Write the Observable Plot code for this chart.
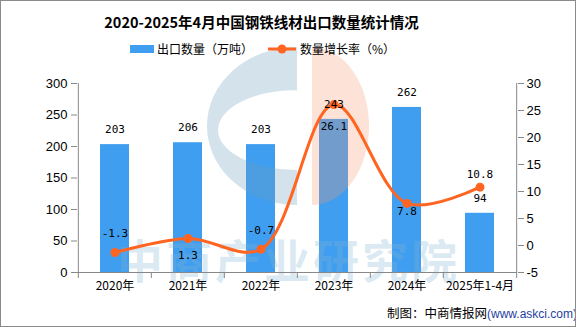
<!DOCTYPE html>
<html>
<head>
<meta charset="utf-8">
<script src="https://cdn.jsdelivr.net/npm/d3@7"></script>
<script src="https://cdn.jsdelivr.net/npm/@observablehq/plot@0.6"></script>
<style>
  html, body { margin: 0; padding: 0; background: #fff; }
  #wrap { position: relative; width: 576px; height: 327px; overflow: hidden; background: #fff;
          font-family: "Noto Sans CJK SC", "Noto Sans", sans-serif; }
  #border { position: absolute; left: 0; top: 0; width: 574px; height: 325px; border: 1px solid #8a8a8a; pointer-events: none; z-index: 5; }
  #title { position: absolute; top: 11px; left: 0; width: 523px; text-align: center; font-size: 14.5px; font-weight: bold; color: #000; line-height: 22px; z-index: 3; }
  #chart { position: absolute; top: 38px; left: 0; }
  #legend { position: absolute; top: 40px; left: 0; width: 576px; height: 18px; font-size: 12px; color: #000; z-index: 3; }
  .lg { position: absolute; top: 0; line-height: 18px; white-space: nowrap; }
  #caption { position: absolute; top: 304px; left: 387px; font-size: 12.5px; line-height: 18px; white-space: nowrap; color: #000; z-index: 3; }
  #caption span { color: #1f3f9f; font-family: "Liberation Sans", sans-serif; font-size: 12px; }
</style>
</head>
<body>
<div id="wrap">
  <div id="title">2020-2025年4月中国钢铁线材出口数量统计情况</div>
  <div id="chart"></div>
  <div id="legend">
    <svg width="576" height="18" style="position:absolute;left:0;top:0;">
      <rect x="130" y="5" width="24" height="8" fill="#409ef0"></rect>
      <line x1="268" x2="296" y1="9" y2="9" stroke="#ff6420" stroke-width="3"></line>
      <circle cx="282" cy="9" r="4.5" fill="#ff6420"></circle>
    </svg>
    <div class="lg" style="left:157px;">出口数量（万吨）</div>
    <div class="lg" style="left:300px;">数量增长率（%）</div>
  </div>
  <div id="caption">制图：中商情报网<span>(www.askci.com)</span></div>
  <div id="border"></div>
</div>
<script>
// ---- data ----
const categories = ["2020年", "2021年", "2022年", "2023年", "2024年", "2025年1-4月"];
const exportVolume = [203, 206, 203, 243, 262, 94];      // 万吨
const growthRate = [-1.3, 1.3, -0.7, 26.1, 7.8, 10.8];     // %
const leftTicks = [0, 50, 100, 150, 200, 250, 300];
const rightTicks = [-5, 0, 5, 10, 15, 20, 25, 30];

// ---- layout / style ----
const W = 576, H = 262;
const mL = 77, mR = 59, mT = 45, mB = 28;
const step = (W - mL - mR) / categories.length;
const growthLabelDy = [-19, 17, -19, 22, 8, -13];
const BAR = "#409ef0", LINE = "#ff6420";
const numFont = "DejaVu Sans Mono, monospace";
const axisFont = "Liberation Sans, Arial, sans-serif";

// right-axis (growth) mapped onto left scale
const rMin = -5, rMax = 30, lMax = 300;
const toLeft = g => (g - rMin) * lMax / (rMax - rMin);
const fromLeft = v => Math.round(v * (rMax - rMin) / lMax + rMin);

const rows = categories.map((c, i) => ({cat: c, vol: exportVolume[i], g: growthRate[i], gy: toLeft(growthRate[i]), i}));

// watermark (decoration) drawn between bars and line
function watermark(index, scales, values, dimensions) {
  const g = d3.create("svg:g").attr("pointer-events", "none");
  const oy = -38;
  g.append("path")
    .attr("d", `M297,${47+oy} A90,79 0 0 0 297,${205+oy} Z M297,${90+oy} A79,40 0 0 0 297,${170+oy} Z`)
    .attr("fill-rule", "evenodd")
    .attr("fill", "rgba(110,160,190,0.3)");
  g.append("path")
    .attr("d", `M312,${47+oy} A57,79 0 0 1 312,${205+oy} Z`)
    .attr("fill", "rgba(245,150,110,0.28)");
  g.append("text")
    .attr("x", 117).attr("y", 278 + oy)
    .attr("text-anchor", "start")
    .attr("font-family", "Noto Sans CJK SC, sans-serif")
    .attr("font-weight", "bold")
    .attr("font-size", 46)
    .attr("textLength", 340)
    .attr("lengthAdjust", "spacing")
    .attr("fill", "rgba(130,180,210,0.28)")
    .text("中商产业研究院");
  return g.node();
}

const marks = [
  Plot.barY(rows, {x: "cat", y: "vol", fill: BAR}),
  watermark,
  // axis lines
  Plot.ruleY([0], {stroke: "#888"}),
  Plot.ruleX([categories[0]], {y1: 0, y2: lMax, dx: -step / 2, stroke: "#888"}),
  Plot.ruleX([categories[categories.length - 1]], {y1: 0, y2: lMax, dx: step / 2, stroke: "#888"}),
  // x boundary ticks
  Plot.ruleX(categories, {y1: 0, y2: -9.5, dx: -step / 2, stroke: "#888"}),
  Plot.ruleX([categories[categories.length - 1]], {y1: 0, y2: -9.5, dx: step / 2, stroke: "#888"}),
  Plot.axisX({tickSize: 0, tickPadding: 9, fontSize: 12, fontFamily: "Noto Sans CJK SC, sans-serif", fill: "#000", label: null}),
  Plot.axisY(leftTicks, {anchor: "left", tickSize: 6, tickPadding: 4, fontSize: 13, fontFamily: axisFont, stroke: "#888", fill: "#000", label: null}),
  Plot.axisY(rightTicks.map(toLeft), {anchor: "right", tickSize: 6, tickPadding: 3, fontSize: 13, fontFamily: axisFont, stroke: "#888", fill: "#000", tickFormat: fromLeft, label: null}),
  // growth line
  Plot.line(rows, {x: "cat", y: "gy", stroke: LINE, strokeWidth: 3, curve: "catmull-rom"}),
  Plot.dot(rows, {x: "cat", y: "gy", r: 4.5, fill: LINE}),
  // bar labels
  Plot.text(rows, {x: "cat", y: "vol", text: d => String(d.vol), dy: -15, fontSize: 11, fontFamily: numFont, fill: "#000"}),
  // growth labels
  ...rows.map((d, i) => Plot.text([d], {x: "cat", y: "gy", text: r => String(r.g), dy: growthLabelDy[i], fontSize: 11, fontFamily: numFont, fill: "#000"}))
];

const chart = Plot.plot({
  width: W, height: H,
  marginLeft: mL, marginRight: mR, marginTop: mT, marginBottom: mB,
  style: {background: "transparent", overflow: "visible"},
  x: {domain: categories, paddingInner: 0.6, paddingOuter: 0.3, axis: null, label: null},
  y: {domain: [0, lMax], axis: null, label: null},
  marks
});
document.getElementById("chart").appendChild(chart);
</script>
</body>
</html>
